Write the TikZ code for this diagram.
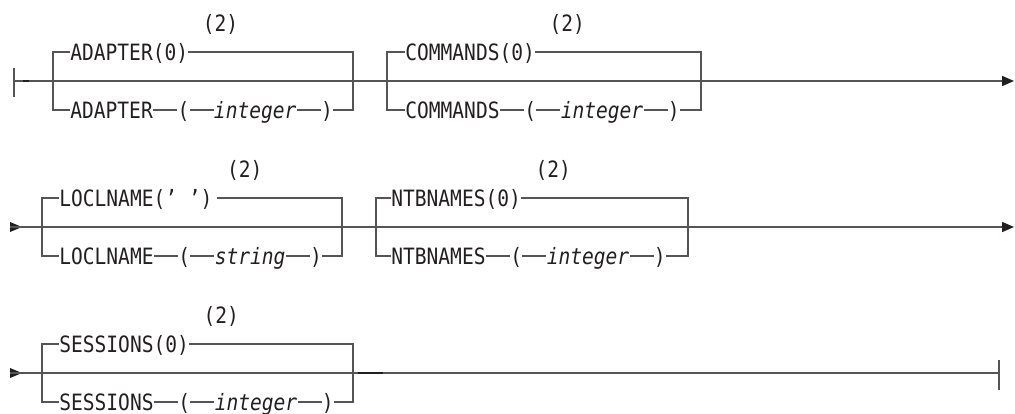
\documentclass[tikz,border=0pt]{standalone}
\usepackage{fontspec}
\newfontfamily\railfont[FakeStretch=0.87]{DejaVu Sans Mono}
\usetikzlibrary{positioning,arrows.meta}
\definecolor{railgray}{HTML}{555555}
\definecolor{txtdark}{HTML}{231F20}
\newcommand\railtext{\railfont\fontsize{12.8pt}{15pt}\selectfont}

\begin{document}
\begin{tikzpicture}[x=0.02cm, y=-0.02cm,
    rail/.style={draw=railgray, line width=0.85pt},
    railmark/.style={draw=txtdark, line width=1.2pt},
    railtip/.style={-{Triangle[length=6.8pt, width=5.7pt, color=txtdark]}},
    kw/.style={inner sep=0pt, text height=9.3pt, text depth=0pt, anchor=west,
        text=txtdark, font=\railtext},
    var/.style={kw, font=\railtext\itshape},
    node distance=0.48cm]
    \useasboundingbox (0,0) rectangle (1015,413);
    % Row 1: ADAPTER, COMMANDS
    \coordinate (r1in) at (14,81);
    \coordinate (r1out) at (1014,81);
    \draw[rail] (r1in) ++(0,-13) -- ++(0,29);
    \draw[rail, railtip] (r1in) -- (r1out);
    \draw[railmark] (23,81) -- (29,81);
    %
    \coordinate (adl) at (53,81);
    \coordinate (adr) at (353,81);
    \node[kw] (addft) at (70,52) {ADAPTER(0)};
    \node[kw] (adnote) at ([shift={(14,-29)}]addft.east) {(2)};
    \node[kw] (adkw) at (70,110) {ADAPTER};
    \node[kw, right=of adkw] (adlp) {(};
    \node[var, right=of adlp] (adval) {integer};
    \node[kw, right=of adval] (adrp) {)};
    \draw[rail] (addft.west) -| (adl) |- (adkw.west);
    \draw[rail] (addft.east) -| (adr) |- (adrp.east);
    \draw[rail] (adkw.east) -- (adlp.west) (adlp.east) -- (adval.west)
        (adval.east) -- (adrp.west);
    %
    \coordinate (cml) at (387,81);
    \coordinate (cmr) at (701,81);
    \node[kw] (cmdft) at (405,52) {COMMANDS(0)};
    \node[kw] (cmnote) at ([shift={(14,-29)}]cmdft.east) {(2)};
    \node[kw] (cmkw) at (405,110) {COMMANDS};
    \node[kw, right=of cmkw] (cmlp) {(};
    \node[var, right=of cmlp] (cmval) {integer};
    \node[kw, right=of cmval] (cmrp) {)};
    \draw[rail] (cmdft.west) -| (cml) |- (cmkw.west);
    \draw[rail] (cmdft.east) -| (cmr) |- (cmrp.east);
    \draw[rail] (cmkw.east) -- (cmlp.west) (cmlp.east) -- (cmval.west)
        (cmval.east) -- (cmrp.west);
    % Row 2: LOCLNAME, NTBNAMES
    \coordinate (r2in) at (10,227);
    \coordinate (r2out) at (1014,227);
    \fill[txtdark] (r2in) -- ++(0,-5) -- ++(12,5) -- ++(-12,5) -- cycle;
    \draw[rail, railtip] (r2in) -- (r2out);
    %
    \coordinate (lnl) at (42,227);
    \coordinate (lnr) at (342,227);
    \node[kw] (lndft) at (59,198) {LOCLNAME(’ ’)};
    \node[kw] (lnnote) at ([shift={(14,-29)}]lndft.east) {(2)};
    \node[kw] (lnkw) at (59,256) {LOCLNAME};
    \node[kw, right=of lnkw] (lnlp) {(};
    \node[var, right=of lnlp] (lnval) {string};
    \node[kw, right=of lnval] (lnrp) {)};
    \draw[rail] (lndft.west) -| (lnl) |- (lnkw.west);
    \draw[rail] ([xshift=2.3pt]lndft.east) -| (lnr) |- (lnrp.east);
    \draw[rail] (lnkw.east) -- (lnlp.west) (lnlp.east) -- (lnval.west)
        (lnval.east) -- (lnrp.west);
    %
    \coordinate (nbl) at (376,227);
    \coordinate (nbr) at (688,227);
    \node[kw] (nbdft) at (391,198) {NTBNAMES(0)};
    \node[kw] (nbnote) at ([shift={(14,-29)}]nbdft.east) {(2)};
    \node[kw] (nbkw) at (391,256) {NTBNAMES};
    \node[kw, right=of nbkw] (nblp) {(};
    \node[var, right=of nblp] (nbval) {integer};
    \node[kw, right=of nbval] (nbrp) {)};
    \draw[rail] (nbdft.west) -| (nbl) |- (nbkw.west);
    \draw[rail] (nbdft.east) -| (nbr) |- (nbrp.east);
    \draw[rail] (nbkw.east) -- (nblp.west) (nblp.east) -- (nbval.west)
        (nbval.east) -- (nbrp.west);
    % Row 3: SESSIONS
    \coordinate (r3in) at (10,373);
    \coordinate (r3out) at (999,373);
    \fill[txtdark] (r3in) -- ++(0,-5) -- ++(12,5) -- ++(-12,5) -- cycle;
    \draw[rail] (r3in) -- (r3out);
    \draw[rail] (r3out) ++(0,-13) -- ++(0,30);
    \draw[railmark] (358,373) -- (383,373);
    %
    \coordinate (ssl) at (42,373);
    \coordinate (ssr) at (353,373);
    \node[kw] (ssdft) at (59,344) {SESSIONS(0)};
    \node[kw] (ssnote) at ([shift={(14,-29)}]ssdft.east) {(2)};
    \node[kw] (sskw) at (59,402) {SESSIONS};
    \node[kw, right=of sskw] (sslp) {(};
    \node[var, right=of sslp] (ssval) {integer};
    \node[kw, right=of ssval] (ssrp) {)};
    \draw[rail] (ssdft.west) -| (ssl) |- (sskw.west);
    \draw[rail] (ssdft.east) -| (ssr) |- (ssrp.east);
    \draw[rail] (sskw.east) -- (sslp.west) (sslp.east) -- (ssval.west)
        (ssval.east) -- (ssrp.west);
\end{tikzpicture}
\end{document}
